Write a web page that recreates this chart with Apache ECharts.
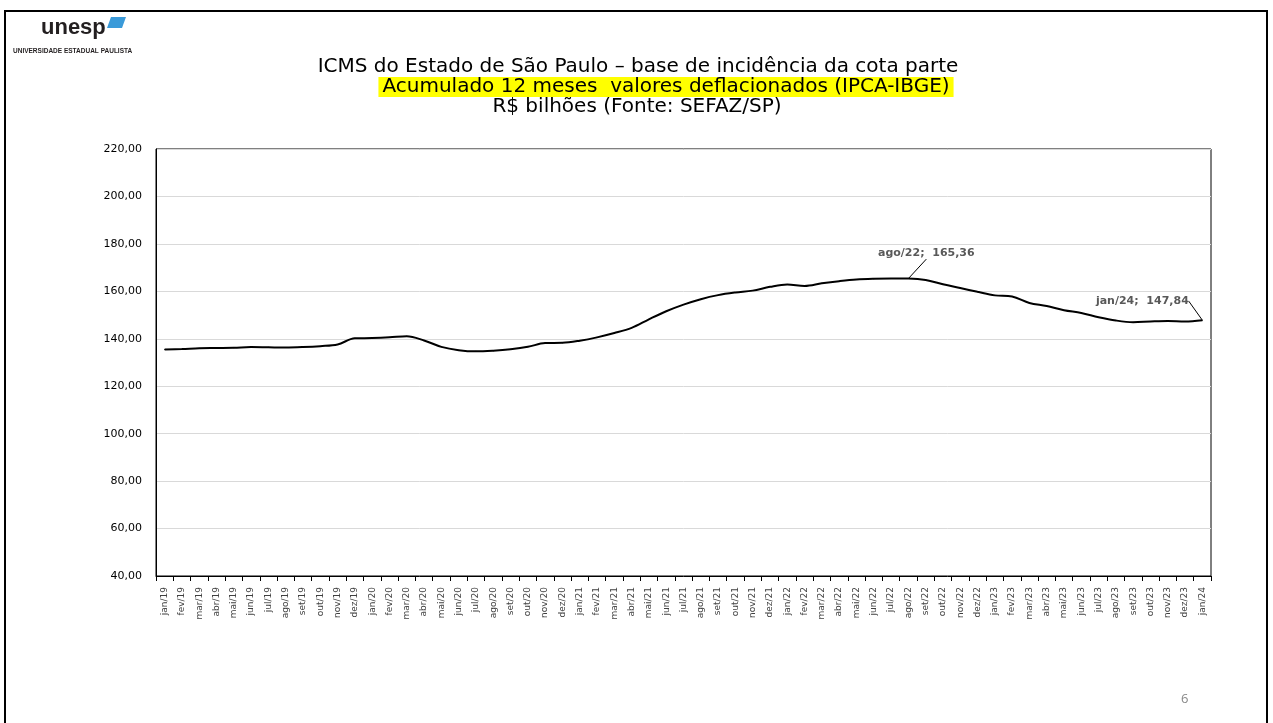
<!DOCTYPE html>
<html>
<head>
<meta charset="utf-8">
<script src="https://cdn.jsdelivr.net/npm/echarts@6/dist/echarts.min.js"></script>
<style>
  html, body { margin: 0; padding: 0; background: #fff; }
  #chart { width: 1273px; height: 723px; }
</style>
</head>
<body>
<div id="chart"></div>
<script>
// meses (eixo x)
const months = [
  "jan/19","fev/19","mar/19","abr/19","mai/19","jun/19","jul/19","ago/19","set/19","out/19","nov/19","dez/19",
  "jan/20","fev/20","mar/20","abr/20","mai/20","jun/20","jul/20","ago/20","set/20","out/20","nov/20","dez/20",
  "jan/21","fev/21","mar/21","abr/21","mai/21","jun/21","jul/21","ago/21","set/21","out/21","nov/21","dez/21",
  "jan/22","fev/22","mar/22","abr/22","mai/22","jun/22","jul/22","ago/22","set/22","out/22","nov/22","dez/22",
  "jan/23","fev/23","mar/23","abr/23","mai/23","jun/23","jul/23","ago/23","set/23","out/23","nov/23","dez/23",
  "jan/24"
];

// ICMS acumulado 12 meses, R$ bilhoes deflacionados
const icms = [
  135.5, 135.7, 136.0, 136.1, 136.2, 136.5, 136.4, 136.3, 136.5, 136.9, 137.6, 140.2,
  140.3, 140.6, 141.1, 139.3, 136.6, 135.2, 134.7, 135.0, 135.6, 136.6, 138.2, 138.3,
  139.2, 140.6, 142.4, 144.6, 148.2, 151.6, 154.4, 156.7, 158.4, 159.5, 160.3, 161.9,
  162.9, 162.3, 163.4, 164.3, 165.0, 165.3, 165.4, 165.36, 164.8, 163.0, 161.4, 159.8,
  158.3, 157.8, 155.1, 153.8, 152.0, 150.9, 149.1, 147.7, 147.0, 147.3, 147.5, 147.3,
  147.84
];

// pontos com rotulo
const labeled = [43, 60];

const fmt = v => v.toFixed(2).replace(".", ",");

const chart = echarts.init(document.getElementById("chart"));

const seriesData = icms.map((v, i) =>
  labeled.includes(i) ? { value: v, label: { show: true } } : v
);

const titleFont = { fontFamily: "DejaVu Sans", fontSize: 20, fontWeight: "normal", color: "#000" };

const options = {
  animation: false,
  backgroundColor: "#fff",
  title: [
    {
      text: "ICMS do Estado de São Paulo – base de incidência da cota parte",
      left: 638, top: 57, textAlign: "center",
      padding: 0,
      textStyle: titleFont
    },
    {
      text: "Acumulado 12 meses  valores deflacionados (IPCA-IBGE)",
      left: 662, top: 77, textAlign: "center",
      padding: [0, 4],
      backgroundColor: "#ffff00",
      textStyle: titleFont
    },
    {
      text: "R$ bilhões (Fonte: SEFAZ/SP)",
      left: 637, top: 97, textAlign: "center",
      padding: 0,
      textStyle: titleFont
    }
  ],
  grid: {
    left: 156, right: 62, top: 149, bottom: 147,
    show: true, borderColor: "#000", borderWidth: 1
  },
  xAxis: {
    type: "category",
    data: months,
    boundaryGap: true,
    axisLine: { lineStyle: { color: "#000", width: 1 } },
    axisTick: { show: true, interval: 0, length: 5, lineStyle: { color: "#000" } },
    axisLabel: {
      interval: 0, rotate: 90, margin: 11,
      fontFamily: "DejaVu Sans", fontSize: 9, color: "#404040"
    }
  },
  yAxis: {
    type: "value",
    min: 40, max: 220, interval: 20,
    axisLine: { show: true, lineStyle: { color: "#000" } },
    axisTick: { show: false },
    splitLine: { lineStyle: { color: "#d9d9d9", width: 1 } },
    axisLabel: {
      margin: 14, formatter: fmt,
      fontFamily: "DejaVu Sans", fontSize: 11, color: "#000"
    }
  },
  series: [
    {
      type: "line",
      data: seriesData,
      smooth: 0.35,
      symbol: "circle",
      symbolSize: 1,
      showSymbol: true,
      showAllSymbol: true,
      itemStyle: { color: "#000" },
      lineStyle: { color: "#000", width: 2 },
      label: {
        show: false,
        position: "top",
        formatter: p => p.name + ";  " + fmt(p.value),
        fontFamily: "DejaVu Sans", fontSize: 11, fontWeight: "bold", color: "#595959"
      },
      labelLine: { show: true, lineStyle: { color: "#000", width: 1 } },
      labelLayout: p => p.dataIndex === 43 ? { dx: 18, dy: -14 } : { dx: -60, dy: -8 }
    }
  ],
  graphic: [
    // moldura do slide
    { type: "rect", shape: { x: 5, y: 11, width: 1262, height: 730 },
      style: { fill: "none", stroke: "#000", lineWidth: 2 } },
    // logo
    { type: "text", left: 41, top: 17,
      style: { text: "unesp", font: "bold 22px 'Liberation Sans'", fill: "#231f20" } },
    { type: "polygon", shape: { points: [[111, 17], [126, 17], [122, 28], [107, 28]] },
      style: { fill: "#3a9ad9" } },
    { type: "text", left: 13, top: 48,
      style: { text: "UNIVERSIDADE ESTADUAL PAULISTA", font: "bold 6.5px 'Liberation Sans'", fill: "#231f20" } },
    // numero da pagina
    { type: "text", left: 1181, top: 693,
      style: { text: "6", font: "13px 'Open Sans'", fill: "#888" } }
  ]
};

chart.setOption(options);

window.addEventListener("resize", () => {
  chart.resize();
});
</script>
</body>
</html>
